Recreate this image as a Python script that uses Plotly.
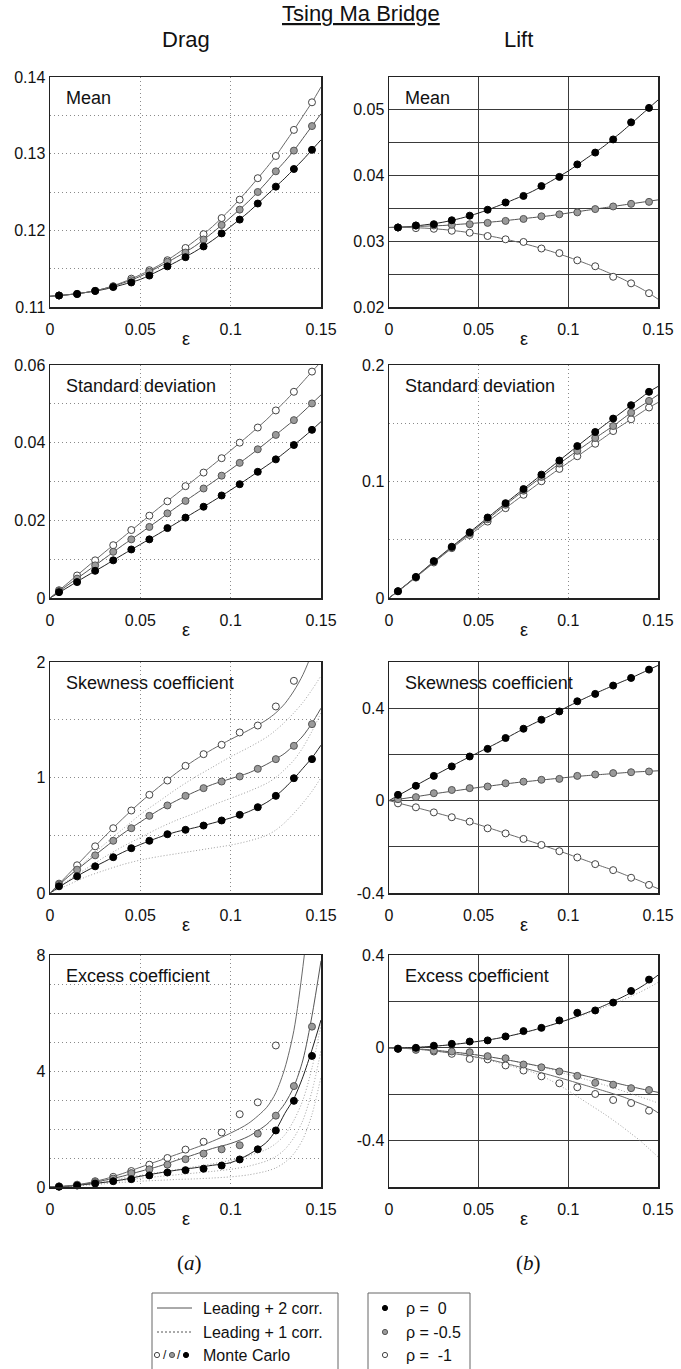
import plotly.graph_objects as go

W, H = 681, 1369

# ---------------- data ----------------
EPS_MC = [0.005, 0.015, 0.025, 0.035, 0.045, 0.055, 0.065, 0.075, 0.085, 0.095,
          0.105, 0.115, 0.125, 0.135, 0.145]
EPS_LINE = [0.0, 0.01, 0.02, 0.03, 0.04, 0.05, 0.06, 0.07, 0.08, 0.09, 0.10,
            0.11, 0.12, 0.125, 0.13, 0.135, 0.14, 0.145, 0.15]

X_TICKS = [0, 0.05, 0.1, 0.15]
X_TICK_TEXT = ["0", "0.05", "0.1", "0.15"]

# Drag - mean
DRAG_MEAN_MC_R0 = [0.1115, 0.1117, 0.1121, 0.1126, 0.1132, 0.1141, 0.1153, 0.1165, 0.1179, 0.1196, 0.1214, 0.1235, 0.1257, 0.1280, 0.1305]
DRAG_MEAN_MC_R05 = [0.1115, 0.1117, 0.1121, 0.1127, 0.1135, 0.1146, 0.1159, 0.1171, 0.1188, 0.1207, 0.1227, 0.1250, 0.1277, 0.1304, 0.1336]
DRAG_MEAN_MC_R1 = [0.1115, 0.1117, 0.1121, 0.1127, 0.1137, 0.1148, 0.1161, 0.1177, 0.1195, 0.1216, 0.1240, 0.1268, 0.1297, 0.1331, 0.1367]
DRAG_MEAN_L2_R0 = [0.1114, 0.1116, 0.1119, 0.1123, 0.1129, 0.1136, 0.1147, 0.1159, 0.1172, 0.1187, 0.1205, 0.1224, 0.1246, 0.1257, 0.1268, 0.1280, 0.1292, 0.1305, 0.1318]
DRAG_MEAN_L2_R05 = [0.1114, 0.1116, 0.1119, 0.1124, 0.1131, 0.1140, 0.1152, 0.1165, 0.1179, 0.1197, 0.1217, 0.1238, 0.1263, 0.1277, 0.1290, 0.1304, 0.1320, 0.1336, 0.1352]
DRAG_MEAN_L2_R1 = [0.1114, 0.1116, 0.1119, 0.1124, 0.1132, 0.1142, 0.1154, 0.1169, 0.1186, 0.1205, 0.1228, 0.1254, 0.1282, 0.1297, 0.1314, 0.1331, 0.1349, 0.1367, 0.1387]

# Lift - mean
LIFT_MEAN_MC_R0 = [0.0321, 0.0324, 0.0326, 0.0332, 0.0339, 0.0348, 0.0359, 0.0369, 0.0384, 0.0398, 0.0417, 0.0435, 0.0455, 0.0481, 0.0503]
LIFT_MEAN_MC_R05 = [0.0321, 0.0324, 0.0324, 0.0325, 0.0326, 0.0328, 0.0331, 0.0334, 0.0338, 0.0341, 0.0344, 0.0349, 0.0353, 0.0357, 0.0360]
LIFT_MEAN_MC_R1 = [0.0321, 0.0320, 0.0319, 0.0316, 0.0313, 0.0308, 0.0303, 0.0299, 0.0289, 0.0282, 0.0271, 0.0262, 0.0246, 0.0236, 0.0221]
LIFT_MEAN_L2_R0 = [0.0321, 0.0322, 0.0325, 0.0329, 0.0335, 0.0343, 0.0353, 0.0364, 0.0376, 0.0391, 0.0407, 0.0426, 0.0445, 0.0456, 0.0467, 0.0479, 0.0491, 0.0503, 0.0515]
LIFT_MEAN_L2_R05 = [0.0321, 0.0322, 0.0323, 0.0324, 0.0326, 0.0328, 0.0330, 0.0333, 0.0336, 0.0339, 0.0343, 0.0347, 0.0351, 0.0353, 0.0355, 0.0357, 0.0359, 0.0361, 0.0363]
LIFT_MEAN_L2_R1 = [0.0321, 0.0321, 0.0320, 0.0318, 0.0315, 0.0311, 0.0306, 0.0300, 0.0293, 0.0285, 0.0276, 0.0266, 0.0255, 0.0249, 0.0243, 0.0236, 0.0229, 0.0221, 0.0212]

# Drag - standard deviation
DRAG_STD_MC_R0 = [0.0015, 0.0041, 0.0070, 0.0097, 0.0125, 0.0151, 0.0180, 0.0207, 0.0235, 0.0264, 0.0293, 0.0325, 0.0357, 0.0394, 0.0433]
DRAG_STD_MC_R05 = [0.0018, 0.0050, 0.0084, 0.0119, 0.0151, 0.0183, 0.0218, 0.0250, 0.0282, 0.0315, 0.0348, 0.0383, 0.0420, 0.0458, 0.0501]
DRAG_STD_MC_R1 = [0.0020, 0.0058, 0.0097, 0.0136, 0.0175, 0.0212, 0.0249, 0.0288, 0.0323, 0.0360, 0.0400, 0.0439, 0.0483, 0.0531, 0.0583]
DRAG_STD_L2_R0 = [0.0, 0.0028, 0.0056, 0.0083, 0.0111, 0.0138, 0.0165, 0.0193, 0.0221, 0.0249, 0.0278, 0.0309, 0.0341, 0.0357, 0.0375, 0.0394, 0.0413, 0.0433, 0.0454]
DRAG_STD_L2_R05 = [0.0, 0.0034, 0.0067, 0.0101, 0.0135, 0.0167, 0.0200, 0.0234, 0.0266, 0.0298, 0.0331, 0.0365, 0.0401, 0.0420, 0.0439, 0.0458, 0.0479, 0.0501, 0.0523]
DRAG_STD_L2_R1 = [0.0, 0.0039, 0.0078, 0.0117, 0.0155, 0.0193, 0.0231, 0.0268, 0.0305, 0.0342, 0.0380, 0.0419, 0.0460, 0.0483, 0.0506, 0.0531, 0.0557, 0.0583, 0.0608]

# Lift - standard deviation
LIFT_STD_MC_R0 = [0.0058, 0.0181, 0.0317, 0.0440, 0.0564, 0.0691, 0.0814, 0.0935, 0.1059, 0.1180, 0.1304, 0.1425, 0.1540, 0.1655, 0.1770]
LIFT_STD_MC_R05 = [0.0058, 0.0178, 0.0312, 0.0434, 0.0555, 0.0676, 0.0800, 0.0921, 0.1039, 0.1154, 0.1263, 0.1373, 0.1476, 0.1591, 0.1692]
LIFT_STD_MC_R1 = [0.0058, 0.0175, 0.0305, 0.0428, 0.0541, 0.0656, 0.0771, 0.0886, 0.1002, 0.1108, 0.1217, 0.1324, 0.1433, 0.1534, 0.1635]
LIFT_STD_L2_R0 = [0.0, 0.0120, 0.0249, 0.0378, 0.0502, 0.0627, 0.0752, 0.0875, 0.0997, 0.1119, 0.1242, 0.1364, 0.1483, 0.1540, 0.1597, 0.1655, 0.1712, 0.1770, 0.1816]
LIFT_STD_L2_R05 = [0.0, 0.0118, 0.0245, 0.0373, 0.0495, 0.0615, 0.0738, 0.0861, 0.0980, 0.1097, 0.1209, 0.1318, 0.1425, 0.1476, 0.1534, 0.1591, 0.1642, 0.1692, 0.1744]
LIFT_STD_L2_R1 = [0.0, 0.0116, 0.0240, 0.0366, 0.0485, 0.0598, 0.0713, 0.0829, 0.0944, 0.1055, 0.1163, 0.1270, 0.1378, 0.1433, 0.1484, 0.1534, 0.1585, 0.1635, 0.1678]

# Drag - skewness
DRAG_SKEW_MC_R0 = [0.058, 0.144, 0.231, 0.310, 0.388, 0.452, 0.509, 0.547, 0.584, 0.628, 0.677, 0.743, 0.841, 0.994, 1.159]
DRAG_SKEW_MC_R05 = [0.072, 0.202, 0.326, 0.452, 0.561, 0.668, 0.758, 0.841, 0.908, 0.965, 1.009, 1.075, 1.159, 1.274, 1.462]
DRAG_SKEW_MC_R1 = [0.081, 0.240, 0.404, 0.561, 0.714, 0.850, 0.974, 1.101, 1.202, 1.283, 1.390, 1.450, 1.615, 1.837, None]
DRAG_SKEW_L2_R0 = [0.0, 0.10, 0.19, 0.27, 0.35, 0.42, 0.48, 0.53, 0.565, 0.605, 0.65, 0.705, 0.785, 0.84, 0.91, 0.99, 1.08, 1.17, 1.28]
DRAG_SKEW_L2_R05 = [0.0, 0.14, 0.265, 0.39, 0.51, 0.615, 0.715, 0.80, 0.875, 0.94, 0.99, 1.04, 1.115, 1.16, 1.21, 1.28, 1.36, 1.47, 1.60]
DRAG_SKEW_L2_R1 = [0.0, 0.16, 0.325, 0.485, 0.64, 0.785, 0.915, 1.04, 1.15, 1.245, 1.33, 1.41, 1.50, 1.56, 1.64, 1.75, 1.89, 2.08, 2.35]
DRAG_SKEW_L1_R0 = [0.0, 0.07, 0.14, 0.195, 0.245, 0.285, 0.315, 0.34, 0.365, 0.39, 0.415, 0.45, 0.50, 0.545, 0.61, 0.69, 0.78, 0.88, 1.00]
DRAG_SKEW_L1_R05 = [0.0, 0.11, 0.21, 0.31, 0.40, 0.48, 0.56, 0.63, 0.69, 0.76, 0.82, 0.88, 0.95, 1.00, 1.07, 1.15, 1.26, 1.40, 1.56]
DRAG_SKEW_L1_R1 = [0.0, 0.14, 0.28, 0.42, 0.55, 0.68, 0.79, 0.90, 1.00, 1.09, 1.18, 1.26, 1.35, 1.41, 1.48, 1.56, 1.65, 1.76, 1.88]

# Lift - skewness
LIFT_SKEW_MC_R0 = [0.025, 0.064, 0.107, 0.148, 0.191, 0.224, 0.271, 0.311, 0.350, 0.386, 0.430, 0.462, 0.498, 0.531, 0.567]
LIFT_SKEW_MC_R05 = [0.006, 0.015, 0.032, 0.046, 0.054, 0.061, 0.075, 0.082, 0.090, 0.094, 0.107, 0.113, 0.119, 0.123, 0.126]
LIFT_SKEW_MC_R1 = [-0.012, -0.029, -0.051, -0.072, -0.091, -0.120, -0.142, -0.166, -0.192, -0.219, -0.246, -0.275, -0.301, -0.334, -0.365]
LIFT_SKEW_L2_R0 = [0.0, 0.043, 0.087, 0.128, 0.170, 0.209, 0.248, 0.290, 0.331, 0.368, 0.408, 0.446, 0.481, 0.498, 0.515, 0.531, 0.549, 0.567, 0.585]
LIFT_SKEW_L2_R05 = [0.0, 0.011, 0.023, 0.035, 0.046, 0.057, 0.067, 0.077, 0.085, 0.093, 0.101, 0.108, 0.114, 0.117, 0.120, 0.123, 0.125, 0.127, 0.129]
LIFT_SKEW_L2_R1 = [0.0, -0.020, -0.040, -0.061, -0.082, -0.104, -0.129, -0.154, -0.179, -0.205, -0.232, -0.260, -0.288, -0.301, -0.316, -0.332, -0.348, -0.365, -0.381]

# Drag - excess
DRAG_EXC_MC_R0 = [0.01, 0.05, 0.12, 0.20, 0.27, 0.40, 0.50, 0.58, 0.63, 0.74, 0.95, 1.30, 1.95, 2.97, 4.52]
DRAG_EXC_MC_R05 = [0.02, 0.07, 0.17, 0.29, 0.48, 0.61, 0.77, 0.96, 1.15, 1.30, 1.44, 1.84, 2.46, 3.48, 5.53]
DRAG_EXC_MC_R1 = [0.02, 0.08, 0.20, 0.35, 0.55, 0.77, 1.00, 1.29, 1.56, 1.88, 2.51, 2.92, 4.88, None, None]
DRAG_EXC_L2_R0 = [0.0, 0.03, 0.09, 0.16, 0.25, 0.37, 0.48, 0.58, 0.66, 0.75, 0.84, 1.12, 1.55, 1.96, 2.54, 3.05, 3.80, 4.73, 5.76]
DRAG_EXC_L2_R05 = [0.0, 0.03, 0.11, 0.23, 0.37, 0.54, 0.71, 0.92, 1.12, 1.33, 1.50, 1.75, 2.16, 2.48, 2.88, 3.46, 4.38, 5.90, 7.80]
DRAG_EXC_L2_R1 = [0.0, 0.04, 0.13, 0.27, 0.46, 0.68, 0.90, 1.12, 1.34, 1.58, 1.86, 2.20, 2.75, 3.25, 4.10, 5.40, 7.60, 10.5, 14.0]
DRAG_EXC_L1_R0 = [0.0, 0.02, 0.06, 0.11, 0.16, 0.20, 0.23, 0.26, 0.28, 0.31, 0.35, 0.42, 0.55, 0.66, 0.85, 1.15, 1.65, 2.50, 3.80]
DRAG_EXC_L1_R05 = [0.0, 0.025, 0.08, 0.15, 0.22, 0.30, 0.36, 0.42, 0.48, 0.54, 0.61, 0.72, 0.90, 1.05, 1.30, 1.70, 2.30, 3.30, 4.70]
DRAG_EXC_L1_R1 = [0.0, 0.03, 0.10, 0.19, 0.30, 0.40, 0.50, 0.60, 0.70, 0.80, 0.92, 1.08, 1.30, 1.50, 1.80, 2.30, 3.00, 4.10, 5.60]

# Lift - excess
LIFT_EXC_MC_R0 = [-0.004, 0.000, 0.009, 0.017, 0.027, 0.032, 0.049, 0.072, 0.086, 0.118, 0.151, 0.161, 0.195, 0.245, 0.294]
LIFT_EXC_MC_R05 = [-0.004, -0.009, -0.012, -0.016, -0.019, -0.036, -0.045, -0.072, -0.084, -0.102, -0.121, -0.151, -0.159, -0.174, -0.182]
LIFT_EXC_MC_R1 = [-0.004, -0.004, -0.016, -0.026, -0.048, -0.050, -0.076, -0.098, -0.123, -0.153, -0.170, -0.199, -0.225, -0.238, -0.271]
LIFT_EXC_L2_R0 = [0.0, 0.0, 0.004, 0.010, 0.018, 0.028, 0.040, 0.056, 0.075, 0.097, 0.122, 0.150, 0.182, 0.200, 0.218, 0.238, 0.260, 0.285, 0.313]
LIFT_EXC_L2_R05 = [0.0, -0.002, -0.007, -0.014, -0.022, -0.032, -0.044, -0.058, -0.073, -0.089, -0.105, -0.122, -0.140, -0.149, -0.158, -0.167, -0.176, -0.184, -0.192]
LIFT_EXC_L2_R1 = [0.0, -0.003, -0.009, -0.018, -0.029, -0.042, -0.058, -0.077, -0.097, -0.118, -0.140, -0.163, -0.186, -0.198, -0.210, -0.225, -0.240, -0.256, -0.280]
LIFT_EXC_L1_R0 = [0.0, 0.0, 0.004, 0.010, 0.018, 0.028, 0.040, 0.056, 0.075, 0.097, 0.120, 0.146, 0.175, 0.190, 0.205, 0.222, 0.240, 0.260, 0.282]
LIFT_EXC_L1_R05 = [0.0, -0.002, -0.007, -0.014, -0.022, -0.032, -0.044, -0.058, -0.074, -0.092, -0.115, -0.137, -0.160, -0.172, -0.185, -0.198, -0.211, -0.224, -0.238]
LIFT_EXC_L1_R1 = [0.0, -0.003, -0.009, -0.018, -0.030, -0.045, -0.062, -0.083, -0.105, -0.140, -0.185, -0.235, -0.285, -0.312, -0.340, -0.370, -0.400, -0.435, -0.470]

# panel definitions: label, y range, tick values, tick labels, MC series, L2 series, L1 series
PANELS = [
    ("Mean", [0.11, 0.14], [0.11, 0.115, 0.12, 0.125, 0.13, 0.135, 0.14],
     ["0.11", "", "0.12", "", "0.13", "", "0.14"],
     [DRAG_MEAN_MC_R0, DRAG_MEAN_MC_R05, DRAG_MEAN_MC_R1],
     [DRAG_MEAN_L2_R0, DRAG_MEAN_L2_R05, DRAG_MEAN_L2_R1], None),
    ("Mean", [0.02, 0.055], [0.02, 0.025, 0.03, 0.035, 0.04, 0.045, 0.05],
     ["0.02", "", "0.03", "", "0.04", "", "0.05"],
     [LIFT_MEAN_MC_R0, LIFT_MEAN_MC_R05, LIFT_MEAN_MC_R1],
     [LIFT_MEAN_L2_R0, LIFT_MEAN_L2_R05, LIFT_MEAN_L2_R1], None),
    ("Standard deviation", [0, 0.06], [0, 0.01, 0.02, 0.03, 0.04, 0.05, 0.06],
     ["0", "", "0.02", "", "0.04", "", "0.06"],
     [DRAG_STD_MC_R0, DRAG_STD_MC_R05, DRAG_STD_MC_R1],
     [DRAG_STD_L2_R0, DRAG_STD_L2_R05, DRAG_STD_L2_R1], None),
    ("Standard deviation", [0, 0.2], [0, 0.05, 0.1, 0.15, 0.2],
     ["0", "", "0.1", "", "0.2"],
     [LIFT_STD_MC_R0, LIFT_STD_MC_R05, LIFT_STD_MC_R1],
     [LIFT_STD_L2_R0, LIFT_STD_L2_R05, LIFT_STD_L2_R1], None),
    ("Skewness coefficient", [0, 2], [0, 0.5, 1, 1.5, 2],
     ["0", "", "1", "", "2"],
     [DRAG_SKEW_MC_R0, DRAG_SKEW_MC_R05, DRAG_SKEW_MC_R1],
     [DRAG_SKEW_L2_R0, DRAG_SKEW_L2_R05, DRAG_SKEW_L2_R1],
     [DRAG_SKEW_L1_R0, DRAG_SKEW_L1_R05, DRAG_SKEW_L1_R1]),
    ("Skewness coefficient", [-0.4, 0.6], [-0.4, -0.2, 0, 0.2, 0.4],
     ["-0.4", "", "0", "", "0.4"],
     [LIFT_SKEW_MC_R0, LIFT_SKEW_MC_R05, LIFT_SKEW_MC_R1],
     [LIFT_SKEW_L2_R0, LIFT_SKEW_L2_R05, LIFT_SKEW_L2_R1], None),
    ("Excess coefficient", [0, 8], [0, 1, 2, 3, 4, 5, 6, 7, 8],
     ["0", "", "", "", "4", "", "", "", "8"],
     [DRAG_EXC_MC_R0, DRAG_EXC_MC_R05, DRAG_EXC_MC_R1],
     [DRAG_EXC_L2_R0, DRAG_EXC_L2_R05, DRAG_EXC_L2_R1],
     [DRAG_EXC_L1_R0, DRAG_EXC_L1_R05, DRAG_EXC_L1_R1]),
    ("Excess coefficient", [-0.6, 0.4], [-0.6, -0.4, -0.2, 0, 0.2, 0.4],
     ["", "-0.4", "", "0", "", "0.4"],
     [LIFT_EXC_MC_R0, LIFT_EXC_MC_R05, LIFT_EXC_MC_R1],
     [LIFT_EXC_L2_R0, LIFT_EXC_L2_R05, LIFT_EXC_L2_R1],
     [LIFT_EXC_L1_R0, LIFT_EXC_L1_R05, LIFT_EXC_L1_R1]),
]

RHO_LABELS = ["ρ = \u00a00", "ρ = -0.5", "ρ = \u00a0-1"]
LEGEND_LINES = ["Leading + 2 corr.", "Leading + 1 corr.", "Monte Carlo"]

# ---------------- styling / layout ----------------
FONT = "Liberation Sans, Arial, sans-serif"
SERIF = "Liberation Serif, Times New Roman, serif"
MC_FILL = ["#000000", "#9a9a9a", "#ffffff"]
MC_EDGE = ["#000000", "#555555", "#444444"]
L2_COLOR = ["#222222", "#555555", "#6a6a6a"]
L1_COLOR = "#a0a0a0"
DOT_DASH = "1px,3px"

# panel pixel boxes (left, right) / (top, bottom)
COLS = [(50, 321), (389, 658)]
ROWS = [(77, 307), (365, 598), (662, 893), (955, 1187)]
SOLID_GRID = [False, True, False, False, False, True, False, True]


def px(x):
    return x / W


def py(y):
    return 1 - y / H


fig = go.Figure()
layout = dict(
    width=W, height=H, margin=dict(l=0, r=0, t=0, b=0, pad=0, autoexpand=False),
    paper_bgcolor="white", plot_bgcolor="white",
    showlegend=False, font=dict(family=FONT, color="#111"),
    hovermode=False,
)
annotations = []
shapes = []

for i, (label, yr, yt, ytt, mcs, l2s, l1s) in enumerate(PANELS):
    n = i + 1
    r, c = divmod(i, 2)
    x0, x1 = COLS[c]
    y0, y1 = ROWS[r]
    xa = "x" if n == 1 else f"x{n}"
    ya = "y" if n == 1 else f"y{n}"
    solid = SOLID_GRID[i]
    gcol = "#3a3a3a" if solid else "#8a8a8a"
    gdash = "solid" if solid else DOT_DASH
    layout["xaxis" if n == 1 else f"xaxis{n}"] = dict(
        domain=[px(x0), px(x1)], anchor=ya, range=[0, 0.15], automargin=False,
        tickvals=X_TICKS, ticktext=X_TICK_TEXT,
        ticks="outside", ticklen=7, tickcolor="rgba(0,0,0,0)",
        tickfont=dict(size=16, family=FONT, color="#111"),
        showgrid=True, gridcolor=gcol, griddash=gdash, gridwidth=1,
        zeroline=False, showline=True, mirror=True, linecolor="#222", linewidth=1.5,
        fixedrange=True,
    )
    layout["yaxis" if n == 1 else f"yaxis{n}"] = dict(
        domain=[py(y1), py(y0)], anchor=xa, range=yr, automargin=False,
        tickvals=yt, ticktext=ytt, ticks="",
        tickfont=dict(size=16, family=FONT, color="#111"),
        showgrid=True, gridcolor=gcol, griddash=gdash, gridwidth=1,
        zeroline=False, showline=True, mirror=True, linecolor="#222", linewidth=1.5,
        fixedrange=True,
    )
    # dotted (leading + 1 corr.)
    if l1s is not None:
        for k in range(3):
            fig.add_trace(go.Scatter(
                x=EPS_LINE, y=l1s[k], mode="lines", xaxis=xa, yaxis=ya,
                line=dict(color=L1_COLOR, width=1, dash="1px,2px", shape="spline", smoothing=0.8),
            ))
    # solid (leading + 2 corr.)
    for k in range(3):
        fig.add_trace(go.Scatter(
            x=EPS_LINE, y=l2s[k], mode="lines", xaxis=xa, yaxis=ya,
            line=dict(color=L2_COLOR[k], width=1, shape="spline", smoothing=0.8),
        ))
    # Monte Carlo markers
    for k in [2, 1, 0]:
        fig.add_trace(go.Scatter(
            x=EPS_MC, y=mcs[k], mode="markers", xaxis=xa, yaxis=ya, cliponaxis=False,
            marker=dict(size=7, color=MC_FILL[k], line=dict(color=MC_EDGE[k], width=1)),
        ))
    # panel label
    annotations.append(dict(
        text=label, xref="paper", yref="paper", x=px(x0 + 14), y=py(y0 + 21),
        xanchor="left", yanchor="middle", showarrow=False,
        font=dict(size=18, family=FONT, color="#111"),
    ))
    # epsilon axis title
    annotations.append(dict(
        text="ε", xref="paper", yref="paper", x=px((x0 + x1) / 2), y=py(y1 + 32),
        xanchor="center", yanchor="middle", showarrow=False,
        font=dict(size=18, family=FONT, color="#111"),
    ))

# headings
annotations += [
    dict(text="<u>Tsing Ma Bridge</u>", xref="paper", yref="paper", x=px(361), y=py(14),
         xanchor="center", yanchor="middle", showarrow=False,
         font=dict(size=22, family=FONT, color="#111")),
    dict(text="Drag", xref="paper", yref="paper", x=px(186), y=py(40),
         xanchor="center", yanchor="middle", showarrow=False,
         font=dict(size=22, family=FONT, color="#111")),
    dict(text="Lift", xref="paper", yref="paper", x=px(518), y=py(40),
         xanchor="center", yanchor="middle", showarrow=False,
         font=dict(size=22, family=FONT, color="#111")),
    dict(text="(<i>a</i>)", xref="paper", yref="paper", x=px(189), y=py(1263),
         xanchor="center", yanchor="middle", showarrow=False,
         font=dict(size=21, family=SERIF, color="#111")),
    dict(text="(<i>b</i>)", xref="paper", yref="paper", x=px(528), y=py(1263),
         xanchor="center", yanchor="middle", showarrow=False,
         font=dict(size=21, family=SERIF, color="#111")),
]

# legend boxes
LEG_ROWS = [1308, 1332, 1355]
shapes.append(dict(type="rect", xref="paper", yref="paper", x0=px(152), x1=px(338),
                   y0=py(1372), y1=py(1293), line=dict(color="#666", width=1)))
shapes.append(dict(type="rect", xref="paper", yref="paper", x0=px(368), x1=px(470),
                   y0=py(1372), y1=py(1293), line=dict(color="#666", width=1)))
shapes.append(dict(type="line", xref="paper", yref="paper", x0=px(157), x1=px(192),
                   y0=py(LEG_ROWS[0]), y1=py(LEG_ROWS[0]), line=dict(color="#555", width=1)))
shapes.append(dict(type="line", xref="paper", yref="paper", x0=px(157), x1=px(192),
                   y0=py(LEG_ROWS[1]), y1=py(LEG_ROWS[1]), line=dict(color="#555", width=1, dash="2px,2px")))


def circ(cx, cy, rad, k):
    return dict(type="circle", xref="paper", yref="paper",
                x0=px(cx - rad), x1=px(cx + rad), y0=py(cy + rad), y1=py(cy - rad),
                fillcolor=MC_FILL[k], line=dict(color=MC_EDGE[k], width=1))


shapes.append(circ(157, LEG_ROWS[2], 2.6, 2))
shapes.append(circ(172, LEG_ROWS[2], 2.6, 1))
shapes.append(circ(186, LEG_ROWS[2], 2.6, 0))
for sx in (164.5, 179):
    annotations.append(dict(text="/", xref="paper", yref="paper", x=px(sx), y=py(LEG_ROWS[2]),
                            xanchor="center", yanchor="middle", showarrow=False,
                            font=dict(size=12, family=FONT, color="#111")))
for row, txt in zip(LEG_ROWS, LEGEND_LINES):
    annotations.append(dict(text=txt, xref="paper", yref="paper", x=px(201), y=py(row),
                            xanchor="left", yanchor="middle", showarrow=False,
                            font=dict(size=16, family=FONT, color="#111")))
for k, (row, txt) in enumerate(zip(LEG_ROWS, RHO_LABELS)):
    shapes.append(circ(385, row, 2.6, k))
    annotations.append(dict(text=txt, xref="paper", yref="paper", x=px(404), y=py(row),
                            xanchor="left", yanchor="middle", showarrow=False,
                            font=dict(size=16, family=FONT, color="#111")))

layout["annotations"] = annotations
layout["shapes"] = shapes
fig.update_layout(**layout)
fig.write_html(
    "out.html",
    config={"displayModeBar": False, "staticPlot": True},
    post_script="document.body.style.margin='0';document.body.style.overflow='hidden';",
)
